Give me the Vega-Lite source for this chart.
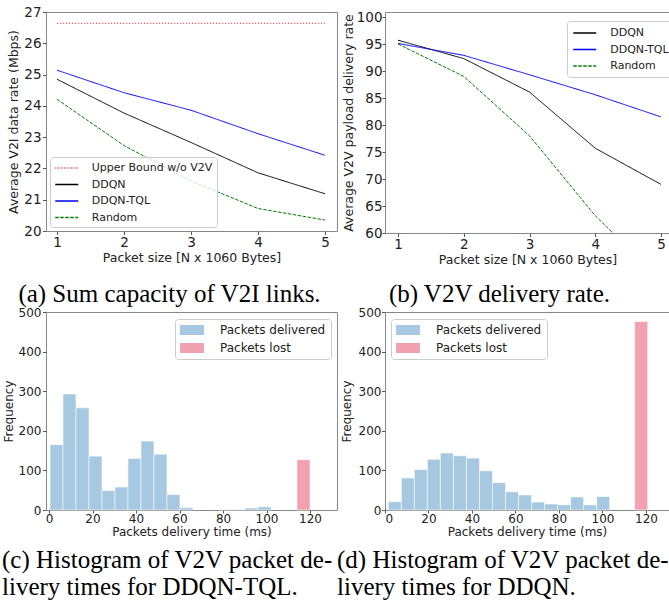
{
  "$schema": "https://vega.github.io/schema/vega-lite/v6.json",
  "padding": {"left": 1, "top": 4, "right": 0, "bottom": 0},
  "background": "white",
  "config": {
    "font": "DejaVu Sans",
    "view": {"stroke": "#888888", "strokeWidth": 1},
    "axis": {"grid": false, "domain": false, "tickColor": "#555555", "tickSize": 3.5, "labelColor": "#222222", "titleColor": "#222222", "labelFont": "DejaVu Sans", "titleFont": "DejaVu Sans", "titleFontWeight": "normal"},
    "title": {"font": "Liberation Serif", "fontSize": 25, "fontWeight": "normal", "color": "#000000", "orient": "bottom", "baseline": "top", "lineHeight": 27}
  },
  "datasets": {
    "v2i": [
      {"N": 1, "rate": 26.64, "method": "Upper Bound w/o V2V"},
      {"N": 2, "rate": 26.64, "method": "Upper Bound w/o V2V"},
      {"N": 3, "rate": 26.64, "method": "Upper Bound w/o V2V"},
      {"N": 4, "rate": 26.64, "method": "Upper Bound w/o V2V"},
      {"N": 5, "rate": 26.64, "method": "Upper Bound w/o V2V"},
      {"N": 1, "rate": 24.85, "method": "DDQN"},
      {"N": 2, "rate": 23.77, "method": "DDQN"},
      {"N": 3, "rate": 22.83, "method": "DDQN"},
      {"N": 4, "rate": 21.86, "method": "DDQN"},
      {"N": 5, "rate": 21.19, "method": "DDQN"},
      {"N": 1, "rate": 25.14, "method": "DDQN-TQL"},
      {"N": 2, "rate": 24.42, "method": "DDQN-TQL"},
      {"N": 3, "rate": 23.86, "method": "DDQN-TQL"},
      {"N": 4, "rate": 23.11, "method": "DDQN-TQL"},
      {"N": 5, "rate": 22.42, "method": "DDQN-TQL"},
      {"N": 1, "rate": 24.21, "method": "Random"},
      {"N": 2, "rate": 22.73, "method": "Random"},
      {"N": 3, "rate": 21.6, "method": "Random"},
      {"N": 4, "rate": 20.72, "method": "Random"},
      {"N": 5, "rate": 20.35, "method": "Random"}
    ],
    "v2v": [
      {"N": 1, "rate": 95.7, "method": "DDQN"},
      {"N": 2, "rate": 92.3, "method": "DDQN"},
      {"N": 3, "rate": 86.1, "method": "DDQN"},
      {"N": 4, "rate": 75.7, "method": "DDQN"},
      {"N": 5, "rate": 69.0, "method": "DDQN"},
      {"N": 1, "rate": 95.1, "method": "DDQN-TQL"},
      {"N": 2, "rate": 92.9, "method": "DDQN-TQL"},
      {"N": 3, "rate": 89.3, "method": "DDQN-TQL"},
      {"N": 4, "rate": 85.6, "method": "DDQN-TQL"},
      {"N": 5, "rate": 81.5, "method": "DDQN-TQL"},
      {"N": 1, "rate": 95.0, "method": "Random"},
      {"N": 2, "rate": 89.0, "method": "Random"},
      {"N": 3, "rate": 78.0, "method": "Random"},
      {"N": 4, "rate": 63.2, "method": "Random"},
      {"N": 5, "rate": 51.3, "method": "Random"}
    ],
    "histC": [
      {"x0": 0.46, "x1": 6.44, "n": 165, "kind": "Packets delivered"},
      {"x0": 6.44, "x1": 12.41, "n": 293, "kind": "Packets delivered"},
      {"x0": 12.41, "x1": 18.39, "n": 258, "kind": "Packets delivered"},
      {"x0": 18.39, "x1": 24.36, "n": 136, "kind": "Packets delivered"},
      {"x0": 24.36, "x1": 30.34, "n": 49, "kind": "Packets delivered"},
      {"x0": 30.34, "x1": 36.31, "n": 58, "kind": "Packets delivered"},
      {"x0": 36.31, "x1": 42.29, "n": 130, "kind": "Packets delivered"},
      {"x0": 42.29, "x1": 48.26, "n": 174, "kind": "Packets delivered"},
      {"x0": 48.26, "x1": 54.24, "n": 141, "kind": "Packets delivered"},
      {"x0": 54.24, "x1": 60.21, "n": 39, "kind": "Packets delivered"},
      {"x0": 60.21, "x1": 66.19, "n": 6, "kind": "Packets delivered"},
      {"x0": 78.14, "x1": 84.11, "n": 1, "kind": "Packets delivered"},
      {"x0": 84.11, "x1": 90.09, "n": 1, "kind": "Packets delivered"},
      {"x0": 90.09, "x1": 96.06, "n": 5, "kind": "Packets delivered"},
      {"x0": 96.06, "x1": 102.04, "n": 8, "kind": "Packets delivered"},
      {"x0": 114.0, "x1": 120.0, "n": 127, "kind": "Packets lost"}
    ],
    "histD": [
      {"x0": 1.5, "x1": 7.49, "n": 21, "kind": "Packets delivered"},
      {"x0": 7.49, "x1": 13.48, "n": 81, "kind": "Packets delivered"},
      {"x0": 13.48, "x1": 19.47, "n": 102, "kind": "Packets delivered"},
      {"x0": 19.47, "x1": 25.46, "n": 128, "kind": "Packets delivered"},
      {"x0": 25.46, "x1": 31.45, "n": 144, "kind": "Packets delivered"},
      {"x0": 31.45, "x1": 37.44, "n": 137, "kind": "Packets delivered"},
      {"x0": 37.44, "x1": 43.43, "n": 131, "kind": "Packets delivered"},
      {"x0": 43.43, "x1": 49.42, "n": 99, "kind": "Packets delivered"},
      {"x0": 49.42, "x1": 55.41, "n": 69, "kind": "Packets delivered"},
      {"x0": 55.41, "x1": 61.4, "n": 46, "kind": "Packets delivered"},
      {"x0": 61.4, "x1": 67.39, "n": 38, "kind": "Packets delivered"},
      {"x0": 67.39, "x1": 73.38, "n": 20, "kind": "Packets delivered"},
      {"x0": 73.38, "x1": 79.37, "n": 15, "kind": "Packets delivered"},
      {"x0": 79.37, "x1": 85.36, "n": 13, "kind": "Packets delivered"},
      {"x0": 85.36, "x1": 91.35, "n": 33, "kind": "Packets delivered"},
      {"x0": 91.35, "x1": 97.34, "n": 13, "kind": "Packets delivered"},
      {"x0": 97.34, "x1": 103.33, "n": 34, "kind": "Packets delivered"},
      {"x0": 114.8, "x1": 120.8, "n": 476, "kind": "Packets lost"}
    ]
  },
  "concat": [
    {
      "width": 291, "height": 219,
      "data": {"name": "v2i"},
      "title": {"text": "(a) Sum capacity of V2I links.", "anchor": "middle", "frame": "group", "dx": -22, "offset": 18},
      "mark": {"type": "line", "strokeWidth": 1, "clip": true},
      "encoding": {
        "x": {"field": "N", "type": "quantitative", "scale": {"domain": [0.836, 5.179], "nice": false, "zero": false},
              "axis": {"values": [1, 2, 3, 4, 5], "title": "Packet size [N x 1060 Bytes]", "labelFontSize": 13.5, "titleFontSize": 12.5, "labelPadding": 1, "titlePadding": 2}},
        "y": {"field": "rate", "type": "quantitative", "scale": {"domain": [20, 27], "nice": false, "zero": false},
              "axis": {"values": [20, 21, 22, 23, 24, 25, 26, 27], "title": "Average V2I data rate (Mbps)", "labelFontSize": 13.5, "titleFontSize": 12.5, "labelPadding": 1.5, "titlePadding": 3}},
        "color": {"field": "method", "type": "nominal",
                  "scale": {"domain": ["Upper Bound w/o V2V", "DDQN", "DDQN-TQL", "Random"], "range": ["#ff3030", "#000000", "#0000ff", "#008000"]},
                  "legend": {"orient": "none", "legendX": 4, "legendY": 145, "title": null, "symbolType": "M-2,0H2", "symbolSize": 132.25, "symbolOffset": 5.75, "symbolStrokeWidth": 1.5, "labelFontSize": 11, "labelFont": "DejaVu Sans", "labelColor": "#222222", "labelOffset": 18.5, "rowPadding": 4.5, "padding": 4.5, "strokeColor": "#cccccc", "fillColor": "rgba(255,255,255,0.8)", "cornerRadius": 3,
                             "encode": {"symbols": {"update": {"strokeDash": {"signal": "datum.value === 'Random' ? [3.5, 1.5] : datum.value === 'Upper Bound w/o V2V' ? [1.2, 1.8] : [1, 0]"}}}}}},
        "strokeDash": {"field": "method", "type": "nominal",
                  "scale": {"domain": ["Upper Bound w/o V2V", "DDQN", "DDQN-TQL", "Random"], "range": [[1.2, 1.8], [1, 0], [1, 0], [3.5, 1.5]]},
                  "legend": null}
      }
    },
    {
      "width": 285, "height": 221,
      "data": {"name": "v2v"},
      "title": {"text": "(b) V2V delivery rate.", "anchor": "middle", "frame": "group", "dx": -28, "offset": 16},
      "mark": {"type": "line", "strokeWidth": 1, "clip": true},
      "encoding": {
        "x": {"field": "N", "type": "quantitative", "scale": {"domain": [0.802, 5.137], "nice": false, "zero": false},
              "axis": {"values": [1, 2, 3, 4, 5], "title": "Packet size [N x 1060 Bytes]", "labelFontSize": 13.5, "titleFontSize": 12.5, "labelPadding": 1, "titlePadding": 2}},
        "y": {"field": "rate", "type": "quantitative", "scale": {"domain": [60, 100.926], "nice": false, "zero": false},
              "axis": {"values": [60, 65, 70, 75, 80, 85, 90, 95, 100], "title": "Average V2V payload delivery rate", "labelFontSize": 13.5, "titleFontSize": 12.5, "tickSize": 3, "labelPadding": 0, "titlePadding": 1}},
        "color": {"field": "method", "type": "nominal",
                  "scale": {"domain": ["DDQN", "DDQN-TQL", "Random"], "range": ["#000000", "#0000ff", "#008000"]},
                  "legend": {"orient": "none", "legendX": 182, "legendY": 9, "title": null, "symbolType": "M-2,0H2", "symbolSize": 132.25, "symbolOffset": 5.75, "symbolStrokeWidth": 1.5, "labelFontSize": 11, "labelFont": "DejaVu Sans", "labelColor": "#222222", "labelOffset": 19, "rowPadding": 4.5, "padding": 5.5, "strokeColor": "#cccccc", "fillColor": "rgba(255,255,255,0.8)", "cornerRadius": 3,
                             "encode": {"symbols": {"update": {"strokeDash": {"signal": "datum.value === 'Random' ? [3.5, 1.5] : [1, 0]"}}}}}},
        "strokeDash": {"field": "method", "type": "nominal",
                  "scale": {"domain": ["DDQN", "DDQN-TQL", "Random"], "range": [[1, 0], [1, 0], [3.5, 1.5]]},
                  "legend": null}
      }
    },
    {
      "width": 291, "height": 198,
      "data": {"name": "histC"},
      "title": {"text": ["(c) Histogram of V2V packet de-", "livery times for DDQN-TQL."], "anchor": "start", "frame": "group", "dx": -44, "offset": 11},
      "mark": {"type": "bar", "stroke": "#ffffff", "strokeWidth": 0.8, "strokeOpacity": 0.7},
      "encoding": {
        "x": {"field": "x0", "type": "quantitative", "scale": {"domain": [-1.38, 132.4], "nice": false, "zero": false},
              "axis": {"values": [0, 20, 40, 60, 80, 100, 120], "title": "Packets delivery time (ms)", "labelFontSize": 12, "titleFontSize": 12, "tickSize": 3, "labelPadding": 0, "titlePadding": 2}},
        "x2": {"field": "x1"},
        "y": {"field": "n", "type": "quantitative", "scale": {"domain": [0, 500], "nice": false},
              "axis": {"values": [0, 100, 200, 300, 400, 500], "title": "Frequency", "labelFontSize": 12, "titleFontSize": 12, "tickSize": 3.5, "labelPadding": 1.5, "titlePadding": 3}},
        "y2": {"datum": 0},
        "color": {"field": "kind", "type": "nominal",
                  "scale": {"domain": ["Packets delivered", "Packets lost"], "range": ["#a6c8e0", "#f2a1b1"]},
                  "legend": {"orient": "none", "legendX": 129, "legendY": 7, "title": null, "symbolType": "M-2,-0.8333H2V0.8333H-2Z", "symbolSize": 144, "symbolOffset": 6, "symbolStrokeWidth": 0, "labelFontSize": 12, "labelFont": "DejaVu Sans", "labelColor": "#222222", "labelOffset": 22, "rowPadding": 6, "padding": 5, "strokeColor": "#cccccc", "fillColor": "rgba(255,255,255,0.8)", "cornerRadius": 3}}
      }
    },
    {
      "width": 284, "height": 198,
      "data": {"name": "histD"},
      "title": {"text": ["(d) Histogram of V2V packet de-", "livery times for DDQN."], "anchor": "start", "frame": "group", "dx": -48, "offset": 11},
      "mark": {"type": "bar", "stroke": "#ffffff", "strokeWidth": 0.8, "strokeOpacity": 0.7},
      "encoding": {
        "x": {"field": "x0", "type": "quantitative", "scale": {"domain": [0, 130.6], "nice": false, "zero": false},
              "axis": {"values": [0, 20, 40, 60, 80, 100, 120], "title": "Packets delivery time (ms)", "labelFontSize": 12, "titleFontSize": 12, "tickSize": 3, "labelPadding": 0, "titlePadding": 2}},
        "x2": {"field": "x1"},
        "y": {"field": "n", "type": "quantitative", "scale": {"domain": [0, 500], "nice": false},
              "axis": {"values": [0, 100, 200, 300, 400, 500], "title": "Frequency", "labelFontSize": 12, "titleFontSize": 12, "tickSize": 3.5, "labelPadding": 0.5, "titlePadding": 5}},
        "y2": {"datum": 0},
        "color": {"field": "kind", "type": "nominal",
                  "scale": {"domain": ["Packets delivered", "Packets lost"], "range": ["#a6c8e0", "#f2a1b1"]},
                  "legend": {"orient": "none", "legendX": 6, "legendY": 7, "title": null, "symbolType": "M-2,-0.8333H2V0.8333H-2Z", "symbolSize": 144, "symbolOffset": 6, "symbolStrokeWidth": 0, "labelFontSize": 12, "labelFont": "DejaVu Sans", "labelColor": "#222222", "labelOffset": 22, "rowPadding": 6, "padding": 5, "strokeColor": "#cccccc", "fillColor": "rgba(255,255,255,0.8)", "cornerRadius": 3}}
      }
    }
  ],
  "columns": 2,
  "spacing": {"row": 79, "column": 48},
  "bounds": "flush",
  "align": "each",
  "resolve": {"scale": {"color": "independent", "strokeDash": "independent"}}
}
